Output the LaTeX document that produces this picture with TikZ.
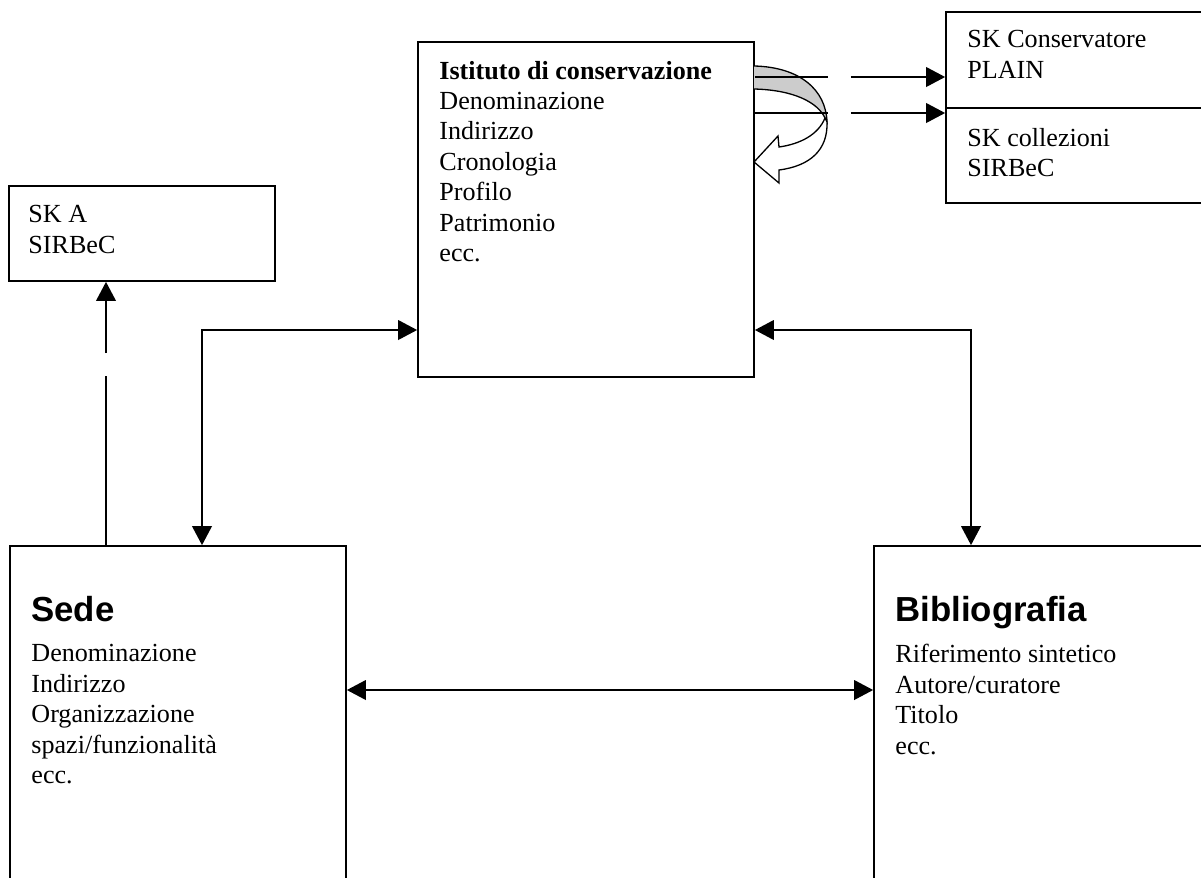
\documentclass[tikz,border=0pt]{standalone}
\usepackage{fontspec}
\setmainfont{Liberation Serif}
\newfontfamily\arialfont{Liberation Sans}
\usetikzlibrary{arrows.meta,fit}

\tikzset{
  box/.style = {draw, line width=0.8pt, inner sep=0pt},
  txt/.style = {anchor=north west, inner sep=0pt, align=left, font=\fontsize{12}{14}\selectfont, execute at begin node=\strut},
  head/.style = {anchor=base west, inner sep=0pt, font=\arialfont\bfseries\fontsize{16}{18}\selectfont},
  link/.style = {line width=0.8pt, -{Triangle[length=8.7pt, width=9pt]}},
  dlink/.style = {line width=0.8pt, {Triangle[length=8.7pt, width=9pt]}-{Triangle[length=8.7pt, width=9pt]}},
}

\begin{document}
\begin{tikzpicture}[x = 0.46pt, y = -0.46pt]
\useasboundingbox (0, 0) rectangle (1201, 877);
\clip (0, 0) rectangle (1201, 877);

% boxes
\node[box, fit = {(418, 42) (754, 377)}] (ist) {};
\node[box, fit = {(946, 12) (1215, 108)}] (skcons) {};
\node[box, fit = {(946, 108) (1215, 203)}] (skcoll) {};
\node[box, fit = {(9, 186) (275, 281)}] (ska) {};
\node[box, fit = {(10, 546) (346, 900)}] (sede) {};
\node[box, fit = {(874, 546) (1215, 900)}] (bib) {};

% texts
\node[txt] (isttxt) at (439, 60.5) {\textbf{Istituto di conservazione}\\Denominazione\\Indirizzo\\Cronologia\\Profilo\\Patrimonio\\ecc.};
\node[txt] (skconstxt) at (967, 30) {SK Conservatore\\PLAIN};
\node[txt] (skcolltxt) at (967, 128) {SK collezioni\\SIRBeC};
\node[txt] (skatxt) at (28, 205) {SK A\\SIRBeC};
\node[head] (sedehead) at (31, 621) {Sede};
\node[txt] (sedetxt) at (31, 644) {Denominazione\\Indirizzo\\Organizzazione\\spazi/funzionalità\\ecc.};
\node[head] (bibhead) at (895, 621) {Bibliografia};
\node[txt] (bibtxt) at (895, 644) {Riferimento sintetico\\Autore/curatore\\Titolo\\ecc.};

% curved arrow on the institute
\filldraw[fill = gray!40, line width = 0.6pt] (754, 66) .. controls (800, 67) and (826, 90) .. (827, 122)
  -- (825, 118) .. controls (818, 103) and (795, 90) .. (754, 89);
\filldraw[fill = white, line width = 0.6pt] (825, 118) -- (827, 122) .. controls (828, 150) and (810, 166) .. (779, 170)
  -- (779, 183) -- (754, 162) -- (778, 136) -- (779, 147) .. controls (800, 144) and (818, 135) .. (825, 118) -- cycle;

% connectors
\draw[link, dash pattern = on 33.6pt off 10.6pt on 200pt] (ist.east |- 0, 77) -- (skcons.west |- 0, 77);
\draw[link, dash pattern = on 33.6pt off 10.6pt on 200pt] (ist.east |- 0, 113) -- (skcoll.west |- 0, 113);
\draw[link, dash pattern = on 77.7pt off 10.6pt on 200pt] (sede.north -| 106, 0) -- (ska.south -| 106, 0);
\draw[dlink] (ist.west |- 0, 330) -| (sede.north -| 202, 0);
\draw[dlink] (ist.east |- 0, 330) -| (bib.north -| 971, 0);
\draw[dlink] (sede.east |- 0, 690) -- (bib.west |- 0, 690);
\end{tikzpicture}
\end{document}
